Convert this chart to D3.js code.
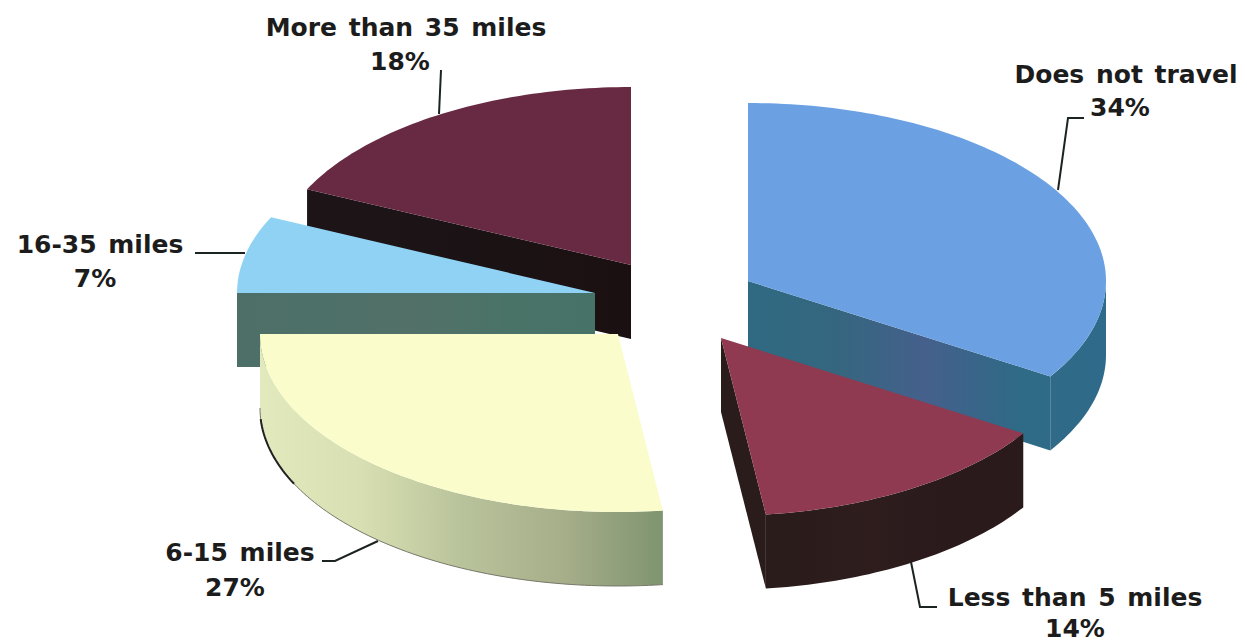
<!DOCTYPE html>
<html>
<head>
<meta charset="utf-8">
<script src="https://cdn.jsdelivr.net/npm/d3@7.9.0/dist/d3.min.js"></script>
<style>
  html, body { margin: 0; padding: 0; background: #fff; }
  svg { display: block; }
  .label { font-family: "DejaVu Sans", sans-serif; font-weight: bold; font-size: 25px; fill: #1c1c1c; text-anchor: middle; word-spacing: 3px; }
  .leader { fill: none; stroke: #1c2420; stroke-width: 2; }
</style>
</head>
<body>
<svg id="chart" width="1247" height="644"></svg>
<script>
const categories = ['Does not travel', 'Less than 5 miles', '6-15 miles', '16-35 miles', 'More than 35 miles'];
const percents = [34, 14, 27, 7, 18];

// top face and side shading per slice
const topColors = ['#6ba1e3', '#8f3a50', '#fafdcb', '#8fd2f4', '#682a42'];
const sideStops = [
  ['#2f6a82', '#35667f', '#45608c', '#2f6a86', '#2f6a8a'],
  ['#2b1c1c', '#2b1c1c', '#2e1d1c', '#2a1a1c', '#2a1a1c'],
  ['#e2e9bd', '#d8dfb2', '#b9c39b', '#a7ae8a', '#7f9470'],
  ['#4d6f68', '#4d7068', '#527068', '#4a7368', '#477268'],
  ['#1c1416', '#1c1416', '#1a1214', '#1c1214', '#1a1012']
];

// layout
const width = 1247, height = 644;
const cx = 660, cy = 300, rx = 358, ry = 178, depth = 74;
const explodeX = [88, 61, -42, -65, -29];
const explodeY = [-19, 38, 34, -7, -35];
const drawOrder = [4, 3, 2, 0, 1];

const svg = d3.select('#chart');
const defs = svg.append('defs');

const arcs = d3.pie().sort(null).value((d) => d)(percents);

// unit circle to screen ellipse
const xScale = d3.scaleLinear().domain([-1, 1]).range([-rx, rx]);
const yScale = d3.scaleLinear().domain([-1, 1]).range([-ry, ry]);
const line = d3.line();

function rim(i, a, drop = 0) {
  return [
    cx + explodeX[i] + xScale(Math.sin(a)),
    cy + explodeY[i] - yScale(Math.cos(a)) + drop
  ];
}
function apex(i, drop = 0) {
  return [cx + explodeX[i], cy + explodeY[i] + drop];
}
function sweep(i, a0, a1, drop = 0) {
  const n = Math.max(2, Math.ceil(Math.abs(a1 - a0) / 0.02));
  return d3.range(n + 1).map((k) => rim(i, a0 + (a1 - a0) * k / n, drop));
}

// gradients run across the whole slice so cut face and wall join without a seam
sideStops.forEach((stops, i) => {
  const xs = [apex(i)[0]].concat(sweep(i, arcs[i].startAngle, arcs[i].endAngle).map((p) => p[0]));
  const g = defs.append('linearGradient')
    .attr('id', `side-${i}`)
    .attr('gradientUnits', 'userSpaceOnUse')
    .attr('x1', d3.min(xs)).attr('x2', d3.max(xs))
    .attr('y1', 0).attr('y2', 0);
  stops.forEach((c, k) => {
    g.append('stop').attr('offset', k / (stops.length - 1)).attr('stop-color', c);
  });
});

drawOrder.forEach((i) => {
  const d = arcs[i];
  const g = svg.append('g').attr('class', 'slice');

  // cut faces that look toward the viewer
  if (Math.sin(d.startAngle) < -1e-6) {
    g.append('path')
      .attr('d', line([apex(i), rim(i, d.startAngle), rim(i, d.startAngle, depth), apex(i, depth)]) + 'Z')
      .attr('fill', `url(#side-${i})`);
  }
  if (Math.sin(d.endAngle) > 1e-6) {
    g.append('path')
      .attr('d', line([apex(i), rim(i, d.endAngle), rim(i, d.endAngle, depth), apex(i, depth)]) + 'Z')
      .attr('fill', `url(#side-${i})`);
  }

  // outer wall, only the front half of the ellipse shows
  const a0 = Math.max(d.startAngle, Math.PI / 2);
  const a1 = Math.min(d.endAngle, Math.PI * 1.5);
  if (a1 > a0) {
    const pts = sweep(i, a0, a1).concat(sweep(i, a1, a0, depth));
    g.append('path').attr('d', line(pts) + 'Z').attr('fill', `url(#side-${i})`);
  }

  // top face
  g.append('path')
    .attr('d', line([apex(i)].concat(sweep(i, d.startAngle, d.endAngle))) + 'Z')
    .attr('fill', topColors[i]);
});

// thin scanned edge along the bottom of the cream slice
svg.append('path')
  .attr('d', line(sweep(2, arcs[2].startAngle, Math.PI * 1.5, depth)))
  .attr('fill', 'none').attr('stroke', '#77776a').attr('stroke-width', 1);
svg.append('path')
  .attr('d', line(sweep(2, Math.PI * 1.36, Math.PI * 1.48, depth)))
  .attr('fill', 'none').attr('stroke', '#222').attr('stroke-width', 2);

// labels and leaders
const labelX = [1126, 1075, 240, 100, 406];
const labelY = [83, 606, 561, 253, 36];
const pctX = [1120, 1075, 235, 95, 400];
const pctY = [116, 637, 596, 287, 70];
const leaders = [
  [[1058, 190], [1068, 118], [1084, 118]],
  [[911, 562], [920, 607], [937, 607]],
  [[322, 561], [335, 561], [378, 541]],
  [[195, 253], [245, 253]],
  [[441, 70], [439, 114]]
];

categories.forEach((name, i) => {
  svg.append('text').attr('class', 'label').attr('x', labelX[i]).attr('y', labelY[i]).text(name);
  svg.append('text').attr('class', 'label').attr('x', pctX[i]).attr('y', pctY[i]).text(`${percents[i]}%`);
  svg.append('path').attr('class', 'leader').attr('d', line(leaders[i]));
});
</script>
</body>
</html>
